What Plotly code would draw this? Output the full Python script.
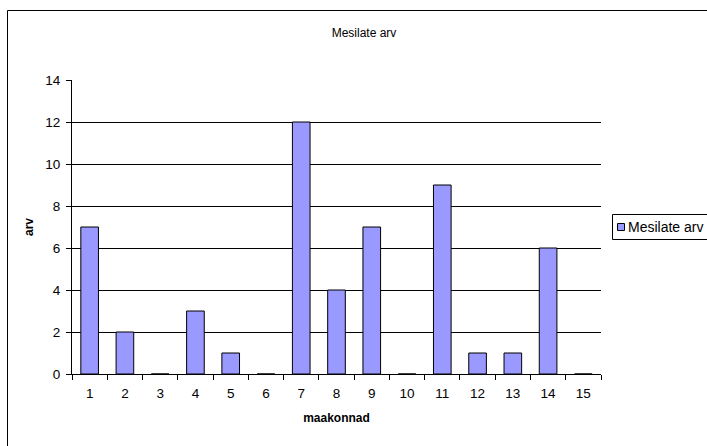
import plotly.graph_objects as go

categories = [str(i) for i in range(1, 16)]
values = [7, 2, 0, 3, 1, 0, 12, 4, 7, 0, 9, 1, 1, 6, 0]
series_name = "Mesilate arv"
title_text = "Mesilate arv"
x_title = "maakonnad"
y_title = "arv"

W, H = 707, 446
L, R, T, B = 72, 601, 80, 374
BAR_COLOR = "#9999FF"

fig = go.Figure()
fig.add_trace(go.Bar(
    x=categories, y=values, name=series_name,
    marker=dict(color=BAR_COLOR, line=dict(color="#000000", width=1)),
    width=0.5, showlegend=False,
))

def pxx(px):
    return (px - L) / (R - L)

def pxy(py):
    return (B - py) / (B - T)

# outer chart border
fig.add_shape(type="rect", xref="paper", yref="paper",
              x0=pxx(7.5), x1=pxx(730), y0=pxy(470), y1=pxy(10.5),
              line=dict(color="#000000", width=1), fillcolor="rgba(0,0,0,0)", layer="below")
# legend box (Excel style)
fig.add_shape(type="rect", xref="paper", yref="paper",
              x0=pxx(612.5), x1=pxx(740), y0=pxy(239.5), y1=pxy(214.5),
              line=dict(color="#000000", width=1), fillcolor="white")
fig.add_shape(type="rect", xref="paper", yref="paper",
              x0=pxx(617.5), x1=pxx(624.5), y0=pxy(230.5), y1=pxy(223.5),
              line=dict(color="#000000", width=1), fillcolor=BAR_COLOR)
fig.add_annotation(text=series_name, xref="paper", yref="paper",
                   x=pxx(626), y=pxy(227), xanchor="left", yanchor="middle",
                   showarrow=False, font=dict(size=14))

fig.update_layout(
    width=W, height=H,
    margin=dict(l=L, r=W - R, t=T, b=H - B, pad=0, autoexpand=False),
    paper_bgcolor="white", plot_bgcolor="white",
    font=dict(family="Liberation Sans, Arial, sans-serif", size=12, color="#000000"),
    title=dict(text=title_text, x=364 / W, xref="container", xanchor="center",
               y=1 - 33 / H, yref="container", yanchor="middle",
               font=dict(size=12)),
    showlegend=False,
    xaxis=dict(type="category", showline=True, linecolor="#000000", linewidth=1,
               ticks="outside", ticklen=5, tickcolor="#000000", tickson="boundaries",
               ticklabelstandoff=7, tickfont=dict(size=13.5),
               showgrid=False, zeroline=False, automargin=False,
               title=dict(text="<b>" + x_title + "</b>", standoff=13, font=dict(size=12))),
    yaxis=dict(range=[0, 14], dtick=2, showline=True, linecolor="#000000", linewidth=1,
               ticks="outside", ticklen=5, tickcolor="#000000", ticklabelstandoff=3,
               tickfont=dict(size=13.5),
               showgrid=True, gridcolor="#000000", gridwidth=1, zeroline=False, automargin=False,
               title=dict(text="<b>" + y_title + "</b>", standoff=9, font=dict(size=12))),
)

fig.write_html("out.html", config={"displayModeBar": False},
               post_script="document.body.style.margin='0';document.body.style.overflow='hidden';")
